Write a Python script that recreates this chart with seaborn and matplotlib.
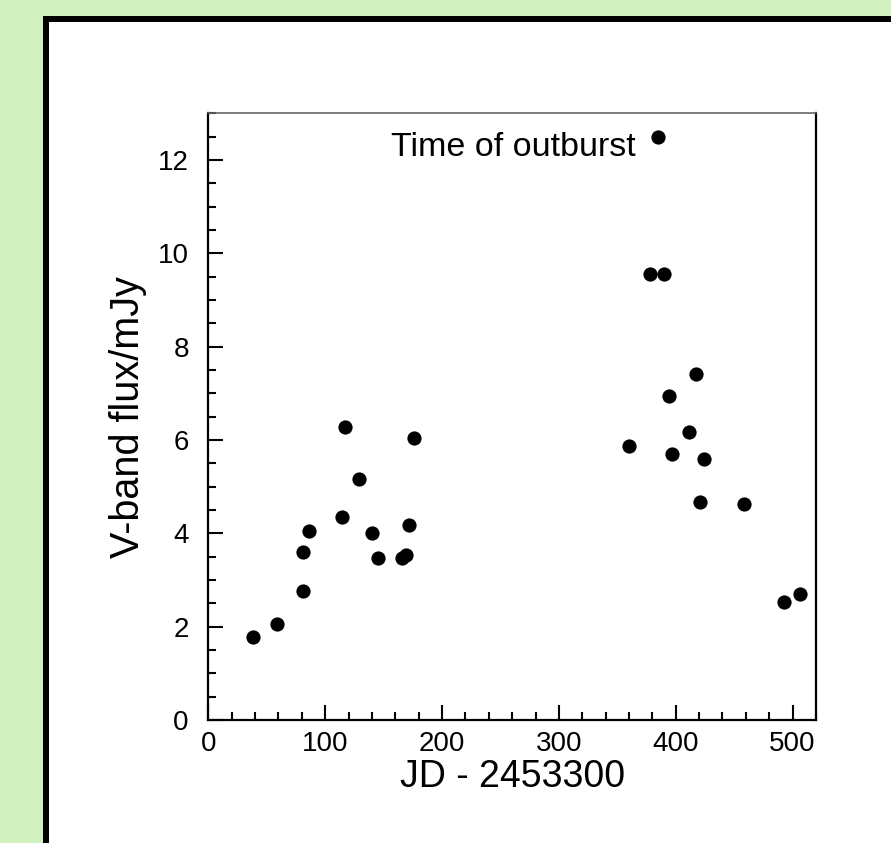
import matplotlib
matplotlib.use("Agg")
import matplotlib.pyplot as plt
import matplotlib.patches as patches
from matplotlib.ticker import MultipleLocator
import seaborn as sns
import pandas as pd

# light curve: days since JD 2453300 and V-band flux (mJy)
jd = [38.5, 58.8, 80.6, 81.4, 86.2, 114.8, 117.2, 129.0, 139.9, 145.6,
      165.6, 169.3, 171.8, 176.4,
      359.9, 377.6, 384.9, 390.2, 394.2, 396.4, 411.0, 417.0, 420.4, 424.1,
      458.0, 492.3, 506.0]
flux = [1.77, 2.05, 3.60, 2.76, 4.04, 4.36, 6.27, 5.16, 4.01, 3.47,
        3.48, 3.53, 4.18, 6.05,
        5.87, 9.56, 12.49, 9.56, 6.94, 5.69, 6.18, 7.42, 4.67, 5.60,
        4.62, 2.53, 2.71]
df = pd.DataFrame({"jd": jd, "flux": flux})

sns.set_style("ticks")
plt.rcParams["font.family"] = ["Liberation Sans", "DejaVu Sans"]
plt.rcParams["text.color"] = "black"
plt.rcParams["axes.labelcolor"] = "black"
plt.rcParams["xtick.color"] = "black"
plt.rcParams["ytick.color"] = "black"

fig = plt.figure(figsize=(8.91, 8.43), dpi=100, facecolor="#d0f0c0")

# white panel with thick black frame, behind the axes
panel = patches.Rectangle((46 / 891, -0.05), 1.0, 1 - 19 / 843 + 0.05,
                          transform=fig.transFigure, facecolor="white",
                          edgecolor="black", linewidth=4.3, zorder=-5)
fig.add_artist(panel)

ax = fig.add_axes([0.2338, 0.1459, 0.682, 0.7197])
ax.set_zorder(5)
ax.set_facecolor("white")

sns.scatterplot(data=df, x="jd", y="flux", color="black", s=105,
                linewidth=0, ax=ax)

ax.set_xlim(0, 520)
ax.set_ylim(0, 13)
ax.xaxis.set_major_locator(MultipleLocator(100))
ax.xaxis.set_minor_locator(MultipleLocator(20))
ax.yaxis.set_major_locator(MultipleLocator(2))
ax.yaxis.set_minor_locator(MultipleLocator(0.5))
ax.tick_params(axis="both", which="both", direction="in", color="black",
               width=1.5, labelsize=20, labelcolor="black",
               top=False, right=False)
ax.tick_params(axis="x", which="major", length=11, pad=8)
ax.tick_params(axis="y", which="major", length=11, pad=14)
ax.tick_params(which="minor", length=5.5)

for side in ["left", "bottom", "right"]:
    ax.spines[side].set_linewidth(1.6)
    ax.spines[side].set_color("black")
ax.spines["top"].set_linewidth(1.2)
ax.spines["top"].set_color("#666666")

ax.set_xlabel("JD - 2453300", fontsize=27, labelpad=1)
ax.set_ylabel("V-band flux/mJy", fontsize=28.5, labelpad=8)

ax.text(366, 12.26, "Time of outburst", fontsize=24.5, ha="right",
        va="center")

fig.savefig("out.png", dpi=100, facecolor=fig.get_facecolor())
